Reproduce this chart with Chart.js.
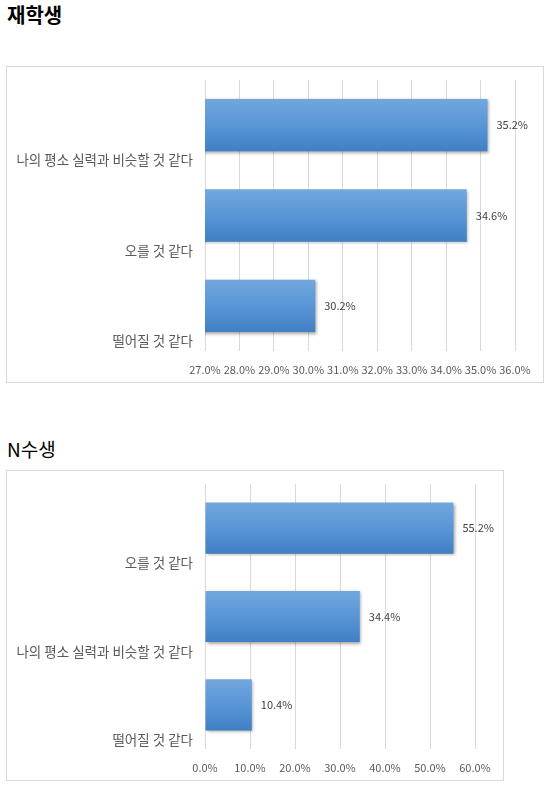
<!DOCTYPE html>
<html>
<head>
<meta charset="utf-8">
<script src="https://cdn.jsdelivr.net/npm/chart.js@4/dist/chart.umd.min.js"></script>
<style>
  body { margin: 0; background: #fff; width: 549px; height: 787px; position: relative; overflow: hidden;
         font-family: 'Noto Sans CJK KR', 'Noto Sans', sans-serif; }
  .title { position: absolute; left: 7px; font-size: 20px; line-height: 20px; color: #000; }
  .box { position: absolute; border: 1px solid #d9d9d9; background: #fff; }
  .box canvas { position: absolute; left: 0; top: 0; }
</style>
</head>
<body>
<div class="title" style="top:5px; font-weight:bold;">재학생</div>
<div class="box" style="left:6px; top:66px; width:536px; height:315px;">
  <canvas id="chart1"></canvas>
</div>

<div class="title" style="top:439px; font-size:19px; line-height:19px;">N수생</div>
<div class="box" style="left:6px; top:470px; width:496px; height:309px;">
  <canvas id="chart2"></canvas>
</div>

<script>
// 재학생
var labels1 = ['나의 평소 실력과 비슷할 것 같다', '오를 것 같다', '떨어질 것 같다'];
var values1 = [35.2, 34.6, 30.2];
var ticks1 = [27, 28, 29, 30, 31, 32, 33, 34, 35, 36];

// N수생
var labels2 = ['오를 것 같다', '나의 평소 실력과 비슷할 것 같다', '떨어질 것 같다'];
var values2 = [55.2, 34.4, 10.4];
var ticks2 = [0, 10, 20, 30, 40, 50, 60];

var BAR_PCT = 0.58;
var FONT = "'Noto Sans CJK KR', 'Noto Sans', sans-serif";

function barGradient(c) {
  var chart = c.chart;
  var y = chart.scales && chart.scales.y;
  if (!chart.chartArea || !y) return '#5b9bd5';
  var yc = y.getPixelForValue(c.dataIndex);
  var half = y.height / chart.data.labels.length * BAR_PCT / 2;
  var g = chart.ctx.createLinearGradient(0, yc - half, 0, yc + half);
  g.addColorStop(0, '#72a7de');
  g.addColorStop(0.5, '#5996d6');
  g.addColorStop(1, '#3f7fc4');
  return g;
}

// 그림자 + 값 라벨
var barExtras = {
  id: 'barExtras',
  beforeDatasetsDraw: function(chart) {
    var ctx = chart.ctx;
    ctx.save();
    ctx.shadowColor = 'rgba(0,0,0,0.35)';
    ctx.shadowBlur = 3;
    ctx.shadowOffsetX = 1.5;
    ctx.shadowOffsetY = 1.5;
  },
  afterDatasetsDraw: function(chart) {
    var ctx = chart.ctx;
    ctx.restore();
    var meta = chart.getDatasetMeta(0);
    ctx.save();
    ctx.font = '11px ' + FONT;
    ctx.fillStyle = '#404040';
    ctx.textAlign = 'left';
    ctx.textBaseline = 'middle';
    meta.data.forEach(function(bar, i) {
      ctx.fillText(chart.data.datasets[0].data[i].toFixed(1) + '%', bar.x + 9, bar.y);
    });
    ctx.restore();
  }
};

function makeChart(id, labels, values, ticks) {
  return new Chart(document.getElementById(id), {
    type: 'bar',
    data: {
      labels: labels,
      datasets: [{
        data: values,
        backgroundColor: barGradient,
        borderWidth: 0,
        barPercentage: BAR_PCT,
        categoryPercentage: 1
      }]
    },
    options: {
      indexAxis: 'y',
      responsive: true,
      maintainAspectRatio: false,
      animation: false,
      layout: { padding: { left: 0, right: 28, top: 13, bottom: 0 } },
      plugins: { legend: { display: false }, tooltip: { enabled: false } },
      scales: {
        x: {
          min: ticks[0],
          max: ticks[ticks.length - 1],
          afterBuildTicks: function(scale) {
            scale.ticks = ticks.map(function(v) { return { value: v }; });
          },
          afterFit: function(scale) { scale.height = 31; },
          grid: { color: '#d9d9d9', drawTicks: false },
          border: { display: false },
          ticks: {
            autoSkip: false,
            maxRotation: 0,
            padding: 12,
            color: '#595959',
            font: { size: 11, family: FONT },
            callback: function(v) { return Number(v).toFixed(1) + '%'; }
          }
        },
        y: {
          afterFit: function(scale) {
            scale.width = 198;
            // 라벨 패딩이 차트 영역을 밀어내지 않게
            scale.paddingTop = 0;
            scale.paddingBottom = 0;
          },
          grid: { display: false, drawTicks: false },
          border: { display: false },
          ticks: {
            padding: 12,
            labelOffset: 35,
            color: '#595959',
            font: { size: 13.5, family: FONT }
          }
        }
      }
    },
    plugins: [barExtras]
  });
}

window.onload = function() {
  makeChart('chart1', labels1, values1, ticks1);
  makeChart('chart2', labels2, values2, ticks2);
};
</script>
</body>
</html>
